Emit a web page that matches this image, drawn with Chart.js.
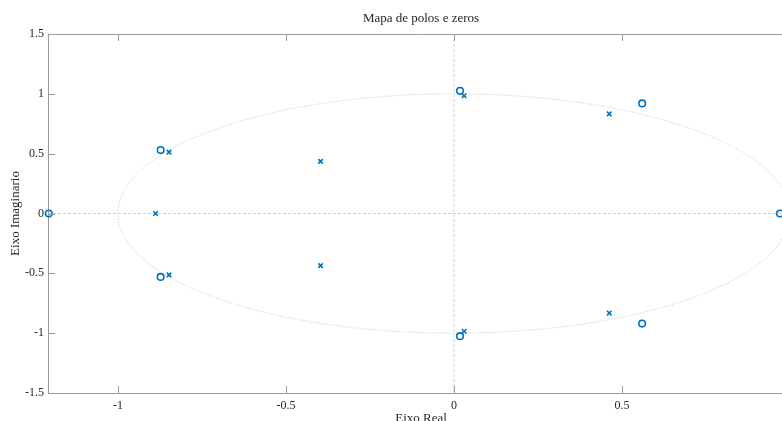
<!DOCTYPE html>
<html>
<head>
<meta charset="utf-8">
<script src="https://cdn.jsdelivr.net/npm/chart.js@4/dist/chart.umd.min.js"></script>
<style>
  html, body { margin: 0; padding: 0; overflow: hidden; background: #fff; }
  #wrap { width: 782px; height: 421px; overflow: hidden; position: relative; }
  canvas { display: block; }
</style>
</head>
<body>
<div id="wrap"><canvas id="c" width="842" height="430" style="width:842px;height:430px"></canvas></div>
<script>
// ---- data ----
const zeroRe = [-1.206, -0.873, -0.873, 0.018, 0.018, 0.56, 0.56, 0.97];
const zeroIm = [0, 0.53, -0.53, 1.025, -1.025, 0.92, -0.92, 0];
const poleRe = [-0.888, -0.848, -0.848, -0.397, -0.397, 0.03, 0.03, 0.462, 0.462];
const poleIm = [0, 0.513, -0.513, 0.436, -0.436, 0.984, -0.984, 0.832, -0.832];
const xTicks = [-1, -0.5, 0, 0.5, 1];
const yTicks = [-1.5, -1, -0.5, 0, 0.5, 1, 1.5];
const xLimits = [-1.2083, 1.0119];
const yLimits = [-1.5, 1.5];
const titleText = 'Mapa de polos e zeros';
const xLabel = 'Eixo Real';
const yLabel = 'Eixo Imaginario';

const BLUE = '#0072BD';
const AXIS = '#9a9a9a';
const SERIF = '"Liberation Serif", "DejaVu Serif", serif';

const zeros = zeroRe.map((v, i) => ({ x: v, y: zeroIm[i] }));
const poles = poleRe.map((v, i) => ({ x: v, y: poleIm[i] }));

const decor = {
  id: 'decor',
  beforeDatasetsDraw(chart) {
    const { ctx, chartArea: a, scales } = chart;
    const xs = scales.x, ys = scales.y;
    ctx.save();
    ctx.beginPath();
    ctx.rect(a.left, a.top, a.right - a.left, a.bottom - a.top);
    ctx.clip();
    // zero lines
    ctx.strokeStyle = '#c4c4c4';
    ctx.lineWidth = 0.8;
    ctx.setLineDash([3, 2]);
    const x0 = xs.getPixelForValue(0), y0 = ys.getPixelForValue(0);
    ctx.beginPath();
    ctx.moveTo(x0, a.top); ctx.lineTo(x0, a.bottom);
    ctx.moveTo(a.left, y0); ctx.lineTo(a.right, y0);
    ctx.stroke();
    // unit circle
    const rx = xs.getPixelForValue(1) - x0;
    const ry = y0 - ys.getPixelForValue(1);
    ctx.strokeStyle = '#c8c8c8';
    ctx.lineWidth = 0.8;
    ctx.setLineDash([1.5, 1.5]);
    ctx.beginPath();
    ctx.ellipse(x0, y0, rx, ry, 0, 0, Math.PI * 2);
    ctx.stroke();
    ctx.restore();
  },
  afterDraw(chart) {
    const { ctx, chartArea: a, scales } = chart;
    const xs = scales.x, ys = scales.y;
    ctx.save();
    // inward tick marks
    ctx.strokeStyle = AXIS;
    ctx.lineWidth = 1;
    ctx.beginPath();
    xTicks.forEach(v => {
      const px = Math.round(xs.getPixelForValue(v)) + 0.5;
      ctx.moveTo(px, a.bottom); ctx.lineTo(px, a.bottom - 7);
      ctx.moveTo(px, a.top); ctx.lineTo(px, a.top + 7);
    });
    yTicks.forEach(v => {
      const py = Math.round(ys.getPixelForValue(v)) + 0.5;
      ctx.moveTo(a.left, py); ctx.lineTo(a.left + 7, py);
    });
    ctx.stroke();
    // texts
    ctx.fillStyle = '#262626';
    ctx.textAlign = 'center';
    ctx.textBaseline = 'alphabetic';
    const cx = (a.left + a.right) / 2;
    ctx.font = '13px ' + SERIF;
    ctx.fillText(titleText, cx, 22);
    ctx.fillText(xLabel, cx, 422);
    ctx.translate(19, (a.top + a.bottom) / 2);
    ctx.rotate(-Math.PI / 2);
    ctx.fillText(yLabel, 0, 0);
    ctx.restore();
  }
};

new Chart(document.getElementById('c'), {
  type: 'scatter',
  data: {
    datasets: [
      {
        label: 'Zeros', data: zeros, pointStyle: 'circle', pointRadius: 3.3,
        pointBorderWidth: 1.6, borderColor: BLUE, backgroundColor: 'rgba(0,0,0,0)',
        pointHoverRadius: 3.3, clip: false
      },
      {
        label: 'Polos', data: poles, pointStyle: 'crossRot', pointRadius: 3.2,
        pointBorderWidth: 1.6, borderColor: BLUE, backgroundColor: BLUE,
        pointHoverRadius: 3.2, clip: false
      }
    ]
  },
  options: {
    responsive: false,
    animation: false,
    devicePixelRatio: 1,
    layout: { padding: { left: 0, right: 48, top: 0, bottom: 0 } },
    plugins: { legend: { display: false }, title: { display: false }, tooltip: { enabled: false } },
    events: [],
    scales: {
      x: {
        type: 'linear', position: 'bottom', min: xLimits[0], max: xLimits[1],
        afterBuildTicks: s => { s.ticks = xTicks.map(v => ({ value: v })); },
        afterFit: s => { s.height = 37; },
        grid: { display: false, drawTicks: false },
        border: { display: true, color: AXIS, width: 1 },
        ticks: {
          padding: 6, color: '#262626', maxRotation: 0, autoSkip: false,
          font: { family: SERIF, size: 12 },
          callback: v => String(v)
        }
      },
      x2: {
        type: 'linear', position: 'top', min: xLimits[0], max: xLimits[1],
        afterFit: s => { s.height = 34; },
        grid: { display: false, drawTicks: false },
        border: { display: true, color: AXIS, width: 1 },
        ticks: { display: false }
      },
      y: {
        type: 'linear', position: 'left', min: yLimits[0], max: yLimits[1],
        afterBuildTicks: s => { s.ticks = yTicks.map(v => ({ value: v })); },
        afterFit: s => { s.width = 48; },
        grid: { display: false, drawTicks: false },
        border: { display: true, color: AXIS, width: 1 },
        ticks: {
          padding: 4, color: '#262626', autoSkip: false,
          font: { family: SERIF, size: 12 },
          callback: v => String(v)
        }
      }
    }
  },
  plugins: [decor]
});
</script>
</body>
</html>
